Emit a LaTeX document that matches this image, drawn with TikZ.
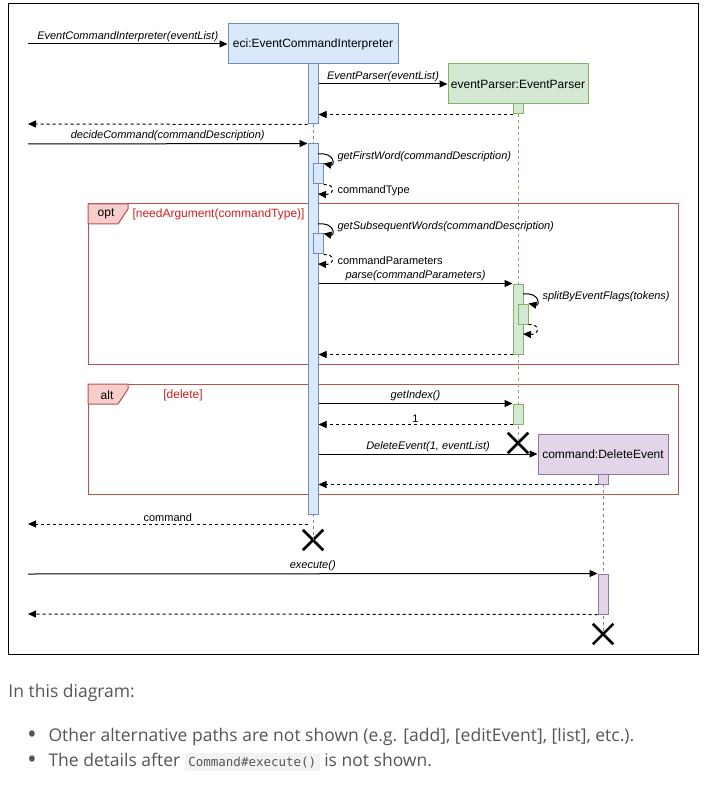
\documentclass[tikz,border=0pt]{standalone}
\usepackage{fontspec}
\setmainfont{Liberation Sans}
\newfontfamily\pagefont{Open Sans}
\newfontfamily\codefont{DejaVu Sans Mono}
\usetikzlibrary{arrows.meta,shapes.misc,positioning}
\definecolor{eciFill}{HTML}{DAE8FC}
\definecolor{eciLine}{HTML}{6C8EBF}
\definecolor{epFill}{HTML}{D5E8D4}
\definecolor{epLine}{HTML}{82B366}
\definecolor{cmdFill}{HTML}{E1D5E7}
\definecolor{cmdLine}{HTML}{9673A6}
\definecolor{frameLine}{HTML}{B85450}
\definecolor{frameFill}{HTML}{F8CECC}
\definecolor{guardRed}{HTML}{D02020}
\definecolor{pageText}{HTML}{555555}
\definecolor{codeBg}{HTML}{F1F3F5}
\tikzset{
  obj/.style={draw, minimum height=40pt, inner sep=0pt, font=\fontsize{12}{14}\selectfont},
  bar/.style={draw, minimum width=10pt, inner sep=0pt},
  call/.style={-{Triangle[length=8pt,width=7pt]}},
  reply/.style={call, dash pattern=on 3pt off 3pt},
  msg/.style={font=\fontsize{11}{13}\selectfont\itshape, inner sep=2pt},
  rmsg/.style={font=\fontsize{11}{13}\selectfont, inner sep=2pt},
  life/.style={dash pattern=on 3pt off 3pt},
  kill/.style={draw, cross out, minimum size=18pt, line width=2.5pt, inner sep=0pt},
  fragment/.style={draw=frameLine},
  tag/.style={font=\fontsize{12}{14}\selectfont, inner sep=0pt},
  guard/.style={text=guardRed, font=\fontsize{12}{14}\selectfont, inner sep=0pt},
  pagetxt/.style={text=pageText, font=\pagefont\fontsize{17.5}{21}\selectfont, inner sep=0pt},
  dotmark/.style={text=pageText, font=\pagefont\fontsize{26}{26}\selectfont, inner sep=0pt},
}
\begin{document}
\begin{tikzpicture}[x=1pt,y=-1pt,line width=1pt]
  \useasboundingbox (0,0) rectangle (725,791);
  \draw (8,4) rectangle (698,654);

  % fragments
  \draw[fragment] (88,204) rectangle (678,364);
  \draw[fragment, fill=frameFill] (88,204) -- (128,204) -- (128,209) -- (118,224) -- (88,224) -- cycle;
  \node[tag] (optTag) at (106,214) {opt};
  \node[guard, anchor=west] (optGuard) at (132,214) {[needArgument(commandType)]};
  \draw[fragment] (88,384) rectangle (678,494);
  \draw[fragment, fill=frameFill] (88,384) -- (128,384) -- (128,389) -- (118,404) -- (88,404) -- cycle;
  \node[tag] (altTag) at (107,395) {alt};
  \node[guard] (altGuard) at (183,395) {[delete]};

  % objects
  \node[obj, fill=eciFill, draw=eciLine, minimum width=170pt] (eci) at (313,44) {eci:EventCommandInterpreter};
  \node[obj, fill=epFill, draw=epLine, minimum width=140pt] (parser) at (518,84) {eventParser:EventParser};
  \node[obj, fill=cmdFill, draw=cmdLine, minimum width=130pt] (cmd) at (603,454) {command:DeleteEvent};

  % end marks
  \node[kill] (eciEnd) at (313,540) {};
  \node[kill] (parserEnd) at (518,443) {};
  \node[kill] (cmdEnd) at (603,634) {};

  % lifelines
  \coordinate (eciGap1) at (313,124);
  \coordinate (eciGap2) at (313,144);
  \coordinate (eciLast) at (313,514);
  \coordinate (parserTop) at (518,114);
  \coordinate (cmdTop) at (603,484);
  \draw[life, draw=eciLine] (eciGap1) -- (eciGap2);
  \draw[life, draw=eciLine] (eciLast) -- (eciEnd.center);
  \draw[life, draw=epLine] (parserTop) -- (parserEnd.center);
  \draw[life, draw=cmdLine] (cmdTop) -- (cmdEnd.center);

  % activations
  \node[bar, fill=eciFill, draw=eciLine, minimum height=60pt] (eciBar1) at (313,94) {};
  \node[bar, fill=eciFill, draw=eciLine, minimum height=370pt] (eciBar2) at (313,329) {};
  \node[bar, fill=eciFill, draw=eciLine, minimum height=20pt] (eciSub1) at (318,174) {};
  \node[bar, fill=eciFill, draw=eciLine, minimum height=20pt] (eciSub2) at (318,244) {};
  \node[bar, fill=epFill, draw=epLine, minimum height=10pt] (parserBar1) at (518,109) {};
  \node[bar, fill=epFill, draw=epLine, minimum height=70pt] (parserBar2) at (518,319) {};
  \node[bar, fill=epFill, draw=epLine, minimum height=20pt] (parserSub) at (523,314) {};
  \node[bar, fill=epFill, draw=epLine, minimum height=20pt] (parserBar3) at (518,414) {};
  \node[bar, fill=cmdFill, draw=cmdLine, minimum height=10pt] (cmdBar1) at (603,479) {};
  \node[bar, fill=cmdFill, draw=cmdLine, minimum height=40pt] (cmdBar2) at (603,594) {};

  % free ends
  \coordinate (in1) at (28,44);
  \coordinate (out1) at (28,124);
  \coordinate (in2) at (28,144);
  \coordinate (out2) at (28,524);
  \coordinate (in3) at (28,574);
  \coordinate (out3) at (28,614);

  % messages
  \draw[call] (in1) -- node[msg, above] {EventCommandInterpreter(eventList)} (eci.west);
  \draw[call] (eciBar1.east |- parser.west) -- node[msg, above] {EventParser(eventList)} (parser.west);
  \draw[reply] (parserBar1.south west) -- (eciBar1.east |- parserBar1.south);
  \draw[reply] (eciBar1.south west) -- (out1);
  \draw[call] (in2) -- node[msg, above] {decideCommand(commandDescription)} (eciBar2.north west);

  \coordinate (gfw) at (318,154);
  \draw[call] (gfw) .. controls (335,152) and (335,166) .. (eciSub1.north east);
  \node[msg, anchor=west] (gfwText) at (335,157) {getFirstWord(commandDescription)};
  \coordinate (typeBack) at (318,194);
  \draw[reply] (eciSub1.south east) .. controls (335,183) and (335,195) .. (typeBack);
  \node[rmsg, anchor=west] (typeText) at (335,191) {commandType};

  \coordinate (gsw) at (318,224);
  \draw[call] (gsw) .. controls (335,222) and (335,236) .. (eciSub2.north east);
  \node[msg, anchor=west] (gswText) at (335,227) {getSubsequentWords(commandDescription)};
  \coordinate (paramBack) at (318,264);
  \draw[reply] (eciSub2.south east) .. controls (335,253) and (335,265) .. (paramBack);
  \node[rmsg, anchor=west] (paramText) at (335,261) {commandParameters};

  \draw[call] (eciBar2.east |- parserBar2.north) -- node[msg, above] {parse(commandParameters)} (parserBar2.north west);
  \coordinate (sbf) at (523,294);
  \draw[call] (sbf) .. controls (540,292) and (540,306) .. (parserSub.north east);
  \node[msg, anchor=west] (sbfText) at (540,297) {splitByEventFlags(tokens)};
  \coordinate (sbfBack) at (523,334);
  \draw[reply] (parserSub.south east) .. controls (540,323) and (540,335) .. (sbfBack);
  \draw[reply] (parserBar2.south west) -- (eciBar2.east |- parserBar2.south);

  \draw[call] (eciBar2.east |- parserBar3.north) -- node[msg, above] {getIndex()} (parserBar3.north west);
  \draw[reply] (parserBar3.south west) -- node[rmsg, above] {1} (eciBar2.east |- parserBar3.south);
  \draw[call] (eciBar2.east |- cmd.west) -- node[msg, above] {DeleteEvent(1, eventList)} (cmd.west);
  \draw[reply] (cmdBar1.south west) -- (eciBar2.east |- cmdBar1.south);
  \draw[reply] (eciBar2.west |- out2) -- node[rmsg, above] {command} (out2);

  \draw[call] (in3) -- node[msg, above] {execute()} (cmdBar2.north west);
  \draw[reply] (cmdBar2.south west) -- (out3);

  % page text
  \node[pagetxt, anchor=west] (intro) at (8,693) {In this diagram:};
  \node[dotmark] (dot1) at (32,737) {•};
  \node[pagetxt, anchor=west] (item1) at (48,737) {Other alternative paths are not shown (e.g. [add], [editEvent], [list], etc.).};
  \node[dotmark] (dot2) at (32,762) {•};
  \node[pagetxt, anchor=west] (item2) at (48,762) {The details after \setlength{\fboxsep}{3.5pt}\colorbox{codeBg}{\codefont\fontsize{12.5}{14}\selectfont Command\#execute()} is not shown.};
\end{tikzpicture}
\end{document}
